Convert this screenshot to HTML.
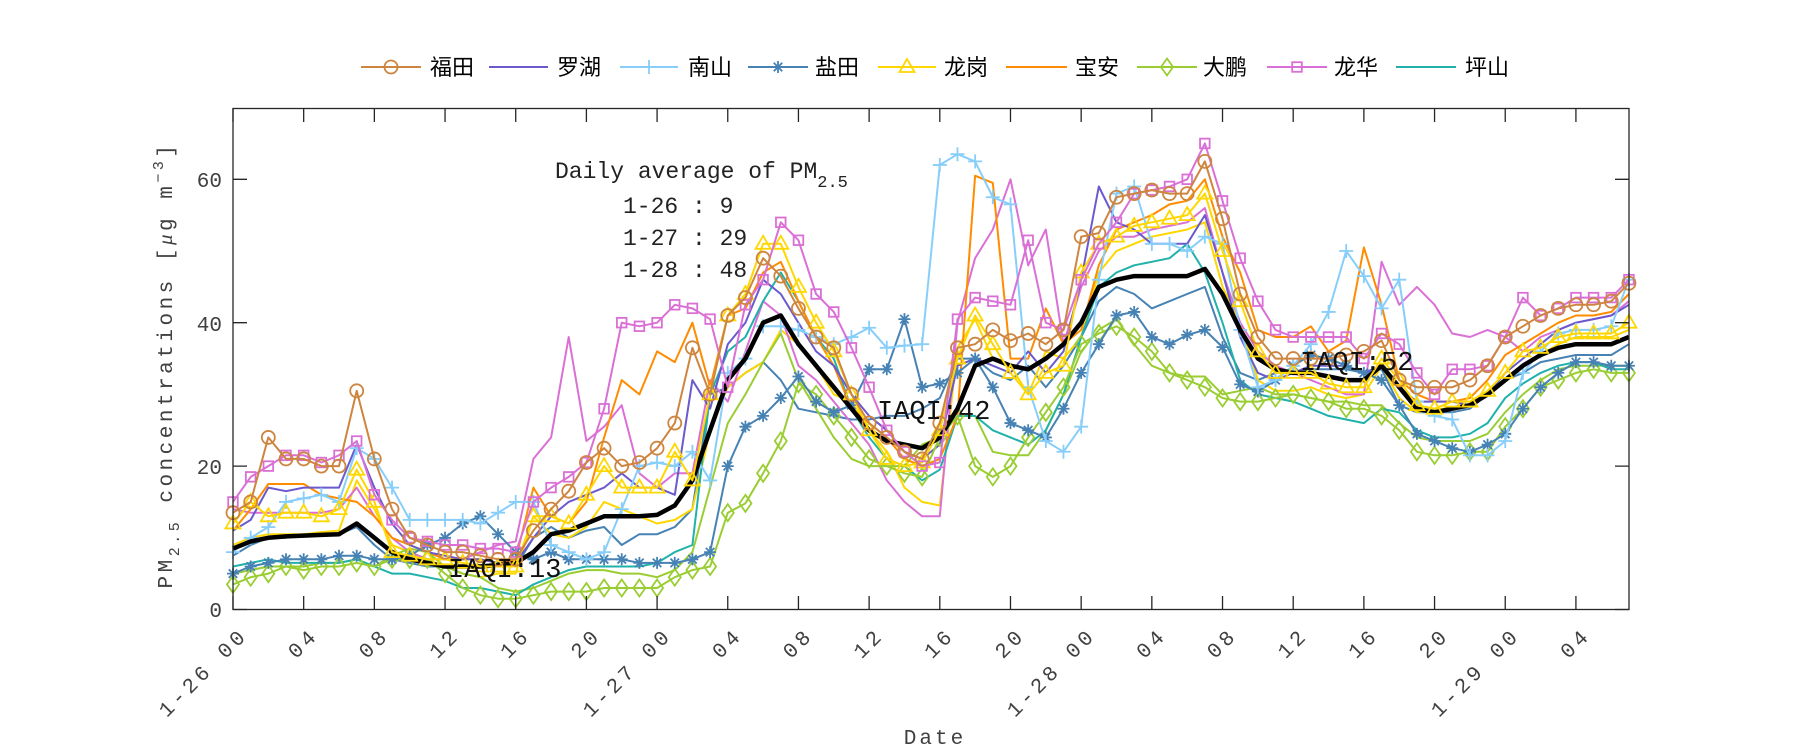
<!DOCTYPE html>
<html><head><meta charset="utf-8"><style>
html,body{margin:0;padding:0;background:#fff;}
svg{display:block;}
.tk{font-family:"Liberation Mono",monospace;font-size:21px;fill:#404040;}
.lg{font-family:"Liberation Sans","Noto Sans CJK SC",sans-serif;font-size:22px;fill:#000;}
.an{font-family:"Liberation Mono",monospace;font-size:23px;fill:#222;}
.iq{font-family:"Liberation Mono",monospace;font-size:27px;fill:#111;}
</style></head><body>
<svg id="s" width="1800" height="750" viewBox="0 0 1800 750" xmlns="http://www.w3.org/2000/svg">
<rect width="1800" height="750" fill="#fff"/>
<g id="data"></g>
<rect x="233" y="108.5" width="1396" height="501" fill="none" stroke="#262626" stroke-width="1.3"/>
<g id="ticks" stroke="#262626" stroke-width="1.3"></g>
<g class="tk" text-anchor="end" style="font-size:21px">
<text x="222" y="617">0</text>
<text x="222" y="474">20</text>
<text x="222" y="331">40</text>
<text x="222" y="187">60</text>
</g>
<g id="xl" class="tk" style="letter-spacing:4px"></g>
<text class="tk" x="935" y="744" text-anchor="middle" style="font-size:21px;letter-spacing:3px">Date</text>
<text class="tk" transform="translate(172,365) rotate(-90)" text-anchor="middle" style="font-size:21px;letter-spacing:3.5px">PM<tspan dy="7" font-size="15">2.5</tspan><tspan dy="-7"> concentrations [</tspan><tspan font-family="Liberation Serif" font-style="italic">μ</tspan>g m<tspan dy="-9" font-size="15">−3</tspan><tspan dy="9">]</tspan></text>
<text class="an" x="555" y="178">Daily average of PM<tspan dy="9" font-size="17">2.5</tspan></text>
<text class="an" x="623" y="213">1-26 : 9</text>
<text class="an" x="623" y="245">1-27 : 29</text>
<text class="an" x="623" y="277">1-28 : 48</text>
<g id="leg"></g>
</svg>
<script>
var NS="http://www.w3.org/2000/svg";
function X(h){return 233+h*17.67;}
function Y(v){return 609.5-v*7.17;}
function el(t,a,p){var e=document.createElementNS(NS,t);for(var k in a)e.setAttribute(k,a[k]);(p||document.getElementById('data')).appendChild(e);return e;}
var S={
fut:[13.5,15,24,21,21,20,20,30.5,21,14,10,9,8,8,7.5,7,7,11,14,16.5,20.5,22.5,20,20.5,22.5,26,36.5,30,41,43.5,49,46.5,42,38,36.5,30,26,24,22,21,26,36.5,37,39,37.5,38.5,37,39,52,52.5,57.5,58,58.5,58,58,62.5,54.5,44,38,35,35,35,35,35.5,36,37.5,32,31,31,31,32,34,38,39.5,41,42,42.5,42.5,43,45.5],
luo:[11,12.5,17,16.5,17,17,17,23,17,12,9,8,7.5,7,7,6.5,6.5,10,13,15,16,17,19,17,17,16,32,28,37,40,46,44,40,36,34,30,27,25,22,21,23,34,35,34,33,36,33,36,46,59,54,53,51,51,51,55,47,38,33,32,33,34,34,34,33,34,31,29,29,29,28.5,30,33,35,37,39,40,40.5,41,42.5],
nan:[8,10,11.5,15,15.5,16,15,22.5,21,17,12.5,12.5,12.5,12.5,12,13.5,15,15,9,8,7,8,14,20,20.5,20,22,18,33,35,39.5,39.5,39,38,37,38,39.3,36.5,36.8,37,62,63.5,62.5,57.5,56.5,31,23.5,22,25.5,46,58,59,51,51,50,52,51,39,31,32,34,37,41.5,50,46.5,42,46,29,27,26.5,21.5,21.5,23.5,33,36,38.5,39,39,39.5,46],
yan:[5,6,6.5,7,7,7,7.5,7.5,7,7,7.5,9,10,12,13,10.5,8,7,8,7,7,7,7,6.5,6.5,6.5,7,8,20,25.5,27,29.5,32.5,29,27.5,28.5,33.5,33.5,40.5,31,31.5,33,35,31,26,25,24,28,33,37,41,41.5,38,37,38.3,39,36.6,31.4,30.4,32,34,35.5,35,34,33,32,28.5,24.5,23.5,22.5,22,23,24.5,28,31,33,34.5,34.5,34,34],
lg:[12,15,13,13.5,13.5,13,14,19.5,15,8,7.5,7,7,6.5,6,6,6,13,13,12,16,20,17,17,17,22,18,30,41,44,51,51,45,40,36,30,25,21,20,20.5,25,35,41,37,33,30,33,34,47,51,52,53.5,54,54.5,55,58,50,43,36,33,33,33,31.5,31,31,35,32,28.5,28,29,29,30.5,33,36,36.5,38,38.5,38.5,38.5,40],
ba:[11,14,17.5,17.5,17.5,16,15.5,15,13,10,9,8,7,7,7,6.5,7,17,13,12,15,24,32,30,36,34.5,40,31,41,42,47,48.5,43,38,34,28,26,24,21,20,21,27,60.5,59.5,35,35,42,37,39,48,53,54,55,56.5,57,60,52,47,39,38,38,39.5,36,37.5,50.5,42.5,32,30,29,29,29.5,32,35.5,37,38.5,40,41,41,41.5,44],
dp:[3.5,4.5,5,6,5.5,6,6,6.5,6,7,7,7,5,3,2,1.5,1.5,2,2.5,2.5,2.5,3,3,3,3,4.5,5.5,6,13.5,14.8,19,23.5,31.5,30,27,24,21,20,19,18.5,24,27,20,18.5,20,24,27.5,31,37,38.5,39.5,38,36,33,32,31,29.5,29,29,29.5,30,29.5,29,28,28,27,25,22,21.5,21.5,22,22,25.5,28,31,32,33,33.5,33,33],
lh:[15,18.5,20,21.5,21.5,20.5,21.5,23.5,16,12.5,10,9.5,9,9,8.5,8.5,8,15,17,18.5,20.5,28,40,39.5,40,42.5,42,40.5,31,42.5,46,54,51.5,44,41.5,36.5,31,25,22,20,20.5,40.5,43.5,43,42.5,51.5,40,39,46,51,54,58,58.5,59,60,65,57,49,43,39,38,38,38,38,35,38.5,37,33,30,33.5,33.5,34,38,43.5,41,42,43.5,43.5,43.5,46],
ps:[6,6.5,7,6.5,6.5,6.5,6.5,7,6,5,5,4.5,4,3,3,2.5,2,3.5,4.5,5.5,6,6,6,6,6.5,8,9,30,36,38,43,47,43,38,35,28,24,21,20,18,19.5,27,27,25,24,23,25,30,38,45,47,48,48.5,49,51,47,40,32,30,29.5,29,28,27,26.5,26,28,27.5,25,24,24,24.5,26,29.5,31.5,33,34,34.5,34.5,33.5,33.5],
sb:[7.5,9,10,10,10.5,10.5,10.5,11.5,9,7,6.5,6,6,6,6,6,6,10,11.5,10,11,11.5,9,10.5,10.5,11.5,14,30,31,33,34.5,32,28,27.5,27,26.5,26.5,27,27,28,29.5,35,35,33,32,34,31,34,38,43,45,44,42,43,44,45,38,33,32,33,33,33.5,33.5,33.5,33,33.5,28.5,27.5,27.5,27.5,28,30,32,33,34.5,35,35.5,35.5,35.5,37],
gp:[9,10,10.5,10.5,10.5,10.8,11,18,14,9,8,7,6,5,4.5,5,5,13,10.5,10,11.5,15,14,13,12,12.5,14,25,31,33,34.5,39,37,34,30,29,25,22,17,15,14.5,36.5,40.5,35,34,30,36,35,38,47,50,51,52,52.5,53,54,45,40,32,30.5,30.5,31,30,29.5,30,34,29.5,27.5,28,28,28.5,30,32,34,35.5,37,38,38,38,39],
op:[14,13.5,13.5,13.5,13.5,13.5,14,17,13,10,8,7,7,7,8,9,9.5,21,24,38,23.5,25.5,28.5,19,17,19,19,32,29,36,43,41,34,32,29,26,23,18,15,13,13,40,49,53,60,48,53,37,45,50,52,52,53,53.5,54,56,47,40,36,34,33,32,31,30,30,48.5,42.5,45,42.5,38.5,38,39,38,36,38,39,40,40.5,41,43],
yg:[5,5.5,6,6,6,6.5,6.5,7,6,7.5,8.5,8,6,5,4.5,3,2.5,3,4,5,5.5,5.5,5,5,4.5,5.5,8,17,26,30,34.5,38.5,32,28,24,21,20,20,20,23,24,27,27,22,21.5,21.5,25,30,36,39,40.5,37,34,33,32.5,32.5,30,30.5,31,30,30,29.5,29,29,28.5,28.5,26,24,23.5,23.5,23.5,24.5,27.5,30,32,33.5,34,34,34,34],
mean:[8.5,9.5,10,10.2,10.3,10.4,10.5,12,10,8,7,6.5,6,6,6,6.2,6.5,8,10.5,11,12,13,13,13,13.2,14.5,18,25,32,35,40,41,37,34,31,28,25,23.5,23,22.5,24,28,34,35,34,33.5,35,37,40,45,46,46.5,46.5,46.5,46.5,47.5,44,39,35,33.5,33,33,32.5,32,32,34,31,28,27.5,28,28.5,30,32,34,35.5,36.5,37,37,37,38]
};
function marker(type,x,y,c,g){
 var a={fill:'none',stroke:c,'stroke-width':1.8};
 if(type=='o'){a.cx=x;a.cy=y;a.r=6.5;el('circle',a,g);}
 else if(type=='+'){a.d='M'+(x-7)+' '+y+'H'+(x+7)+'M'+x+' '+(y-7)+'V'+(y+7);el('path',a,g);}
 else if(type=='*'){var d='';for(var i=0;i<4;i++){var t=i*Math.PI/4+Math.PI/2,dx=6*Math.cos(t),dy=6*Math.sin(t);d+='M'+(x-dx)+' '+(y-dy)+'L'+(x+dx)+' '+(y+dy);}a.d=d;el('path',a,g);}
 else if(type=='^'){a.points=x+','+(y-8)+' '+(x+7.5)+','+(y+5)+' '+(x-7.5)+','+(y+5);el('polygon',a,g);}
 else if(type=='d'){a.points=x+','+(y-8.5)+' '+(x+6)+','+y+' '+x+','+(y+8.5)+' '+(x-6)+','+y;el('polygon',a,g);}
 else if(type=='s'){a.x=x-4.8;a.y=y-4.8;a.width=9.6;a.height=9.6;el('rect',a,g);}
}
function series(arr,c,w,m){
 var p='';for(var i=0;i<arr.length;i++){p+=(i?'L':'M')+X(i).toFixed(1)+' '+Y(arr[i]).toFixed(1);}
 el('path',{d:p,fill:'none',stroke:c,'stroke-width':w,'stroke-linejoin':'round'});
 if(m)for(var i=0;i<arr.length;i++)marker(m,X(i),Y(arr[i]),c);
}
series(S.sb,'#4682B4',2);
series(S.gp,'#FFD700',2);
series(S.op,'#DA70D6',2);
series(S.yg,'#9ACD32',2);
series(S.ps,'#20B2AA',2);
series(S.ba,'#FF8C00',2);
series(S.luo,'#6A5ACD',2);
series(S.dp,'#9ACD32',2,'d');
series(S.yan,'#4682B4',2,'*');
series(S.nan,'#87CEFA',2,'+');
series(S.mean,'#000',4.5);
series(S.lg,'#FFD700',2,'^');
series(S.lh,'#DA70D6',2,'s');
series(S.fut,'#CD853F',2,'o');
[['IAQI:13',448,577],['IAQI:42',877,419],['IAQI:52',1300,370]].forEach(function(t){var e=el('text',{x:t[1],y:t[2],'class':'iq'});e.textContent=t[0];});
var tg=document.getElementById('ticks'),xl=document.getElementById('xl');
for(var h=0;h<=76;h+=4){var x=X(h);el('path',{d:'M'+x+' 609.5V596M'+x+' 108.5V122'},tg);
 var hh=h%24,day=26+Math.floor(h/24);var lab=(hh<10?'0':'')+hh;if(hh==0)lab='1-'+day+' '+lab;
 var tx=x+16,ty=636;
 var e=el('text',{x:tx,y:ty,'text-anchor':'end',transform:'rotate(-45 '+tx+' '+ty+')'},xl);e.textContent=lab;}
[0,20,40,60].forEach(function(v){var y=Y(v);el('path',{d:'M233 '+y+'H247M1629 '+y+'H1615'},tg);});
var lgd=document.getElementById('leg');
[['福田','#CD853F','o',361,421,430],['罗湖','#6A5ACD','',489,548,557],['南山','#87CEFA','+',620,678,688],['盐田','#4682B4','*',748,808,815],['龙岗','#FFD700','^',878,936,944],['宝安','#FF8C00','',1006,1067,1075],['大鹏','#9ACD32','d',1137,1197,1203],['龙华','#DA70D6','s',1267,1327,1334],['坪山','#20B2AA','',1396,1456,1465]].forEach(function(l){
 el('path',{d:'M'+l[3]+' 67H'+l[4],stroke:l[1],'stroke-width':2},lgd);
 if(l[2])marker(l[2],(l[3]+l[4])/2,67,l[1],lgd);
 var t=el('text',{x:l[5],y:75,'class':'lg'},lgd);t.textContent=l[0];
});
</script>
</body></html>
